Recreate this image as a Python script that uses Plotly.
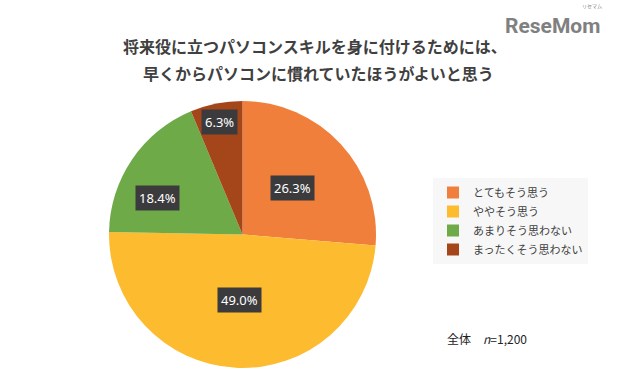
import math
import plotly.graph_objects as go

categories = ["とてもそう思う", "ややそう思う", "あまりそう思わない", "まったくそう思わない"]
values = [26.3, 49.0, 18.4, 6.3]
colors = ["#F07F3C", "#FDBB30", "#6EAA48", "#A4461A"]
title_lines = ["将来役に立つパソコンスキルを身に付けるためには、", "早くからパソコンに慣れていたほうがよいと思う"]
note_text = "全体　<i>n</i>=1,200"

W, H = 640, 380
dom_x = [108 / W, 377 / W]
dom_y = [1 - 368 / H, 1 - 101 / H]
# label placement (Excel "best fit" look): radius fraction and angular nudge in degrees
label_r = [0.51, 0.49, 0.69, 0.86]
label_nudge = [0, 0, -11, 0]

fig = go.Figure(go.Pie(
    labels=categories, values=values, sort=False, direction="clockwise", rotation=0,
    marker=dict(colors=colors, line=dict(width=0)),
    textinfo="none", hoverinfo="label+percent",
    domain=dict(x=dom_x, y=dom_y),
))

cx = (dom_x[0] + dom_x[1]) / 2 * W
cy = (1 - (dom_y[0] + dom_y[1]) / 2) * H
rad = min((dom_x[1] - dom_x[0]) * W, (dom_y[1] - dom_y[0]) * H) / 2
total = sum(values)
cum = 0.0
annotations = []
for v, rf, nd in zip(values, label_r, label_nudge):
    mid = (cum + v / 2) / total * 2 * math.pi + math.radians(nd)
    cum += v
    px = cx + rf * rad * math.sin(mid)
    py = cy - rf * rad * math.cos(mid)
    annotations.append(dict(
        x=px / W, y=1 - py / H, xref="paper", yref="paper", showarrow=False,
        text=f"{v:.1f}%", font=dict(family="Noto Sans, DejaVu Sans", size=13, color="white"),
        bgcolor="#3B3B3D", borderpad=3, xanchor="center", yanchor="middle",
    ))

annotations += [
    dict(x=315 / W, y=1 - 46 / H, xref="paper", yref="paper", showarrow=False,
         text=f"<b>{title_lines[0]}</b>", font=dict(family="Noto Sans CJK JP", size=16, color="#404040"),
         xanchor="center", yanchor="middle"),
    dict(x=318 / W, y=1 - 73 / H, xref="paper", yref="paper", showarrow=False,
         text=f"<b>{title_lines[1]}</b>", font=dict(family="Noto Sans CJK JP", size=16, color="#404040"),
         xanchor="center", yanchor="middle"),
    dict(x=445 / W, y=1 - 338 / H, xref="paper", yref="paper", showarrow=False,
         text=note_text, font=dict(family="Noto Sans CJK JP", size=12, color="#222222"),
         xanchor="left", yanchor="middle"),
    dict(x=552 / W, y=1 - 26 / H, xref="paper", yref="paper", showarrow=False,
         text="<b>ReseMom</b>", font=dict(family="Roboto", size=21, color="#808080"),
         xanchor="center", yanchor="middle"),
    dict(x=592 / W, y=1 - 12 / H, xref="paper", yref="paper", showarrow=False,
         text="リセマム", font=dict(family="Noto Sans CJK JP", size=5, color="#808080"),
         xanchor="center", yanchor="bottom"),
]

fig.update_layout(
    width=W, height=H, margin=dict(l=0, r=0, t=0, b=0),
    paper_bgcolor="white", plot_bgcolor="white",
    showlegend=True,
    legend=dict(x=433 / W, y=1 - 178 / H, xanchor="left", yanchor="top",
                bgcolor="#F7F7F7", font=dict(family="Noto Sans CJK JP", size=11, color="#404040"),
                itemwidth=30, tracegroupgap=0),
    annotations=annotations,
)

fig.write_html("out.html", config={"displayModeBar": False},
               post_script="document.body.style.margin='0';")
